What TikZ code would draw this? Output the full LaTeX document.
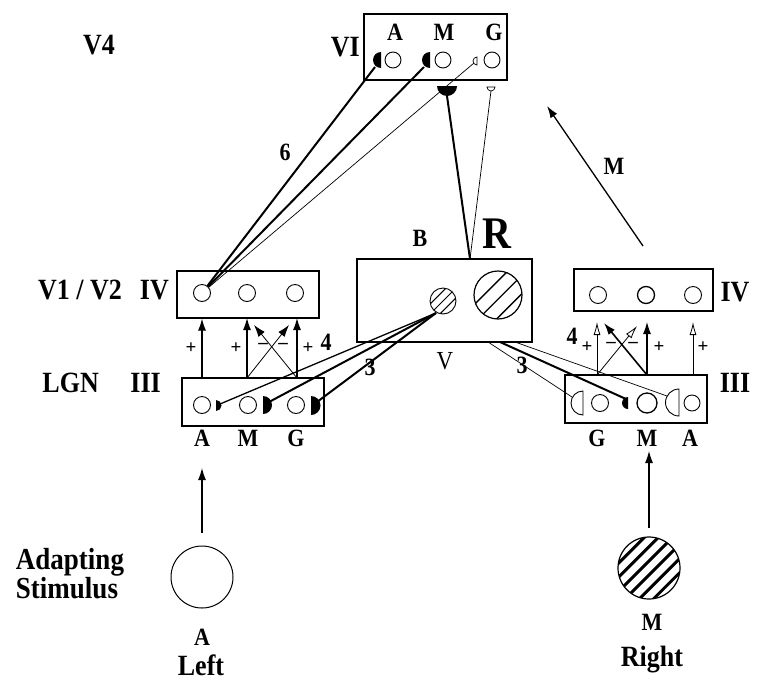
\documentclass[tikz,border=0pt]{standalone}
\usepackage{fontspec}
\setmainfont{Liberation Serif}
\usetikzlibrary{arrows.meta}
\newcommand\stretchtxt[1]{\scalebox{1}[1.13]{#1}}
\begin{document}
\begin{tikzpicture}[x=1pt,y=-1pt,
  box/.style={draw, line width=1.1pt},
  cell/.style={circle, draw, line width=0.9pt, minimum size=17pt, inner sep=0pt},
  big/.style={font=\bfseries\fontsize{26}{26}\selectfont, inner sep=0pt},
  mid/.style={font=\bfseries\fontsize{22}{22}\selectfont, inner sep=0pt},
  sign/.style={font=\bfseries\fontsize{19}{19}\selectfont, inner sep=0pt},
  bold line/.style={line width=2pt},
  med line/.style={line width=1.3pt},
  fine line/.style={line width=0.7pt},
  arr/.style={-{Latex[length=12pt,width=8pt]}, line width=1.1pt},
  oarr/.style={-{Latex[open,length=13pt,width=7pt]}, line width=0.8pt},
  hatch/.style={line width=1.4pt},
]
\useasboundingbox (0,0) rectangle (762,683);

% ---------------- V4 (layer VI) ----------------
\node[big] (v4) at (99,45) {\stretchtxt{V4}};
\node[box, minimum width=143pt, minimum height=66pt, inner sep=0pt] (vibox) at (435.5,47) {};
\node[big, anchor=east] (vilab) at (360,47) {\stretchtxt{VI}};
\node[mid] at (395,32) {\stretchtxt{A}};
\node[mid] at (444,32) {\stretchtxt{M}};
\node[mid] at (494,32) {\stretchtxt{G}};
\node[cell, minimum size=16pt] (viA) at (393,60) {};
\node[cell, minimum size=16pt] (viM) at (443,60) {};
\node[cell, minimum size=16pt] (viG) at (492,60) {};
% synaptic terminals on the VI cells
\fill (381,52) arc[start angle=270, end angle=90, radius=8] -- cycle;
\fill (430,52) arc[start angle=270, end angle=90, radius=8] -- cycle;
\draw[fill=white, line width=0.7pt] (477,57) arc[start angle=270, end angle=90, radius=4] -- cycle;
\coordinate (tA) at (375,67);
\coordinate (tM) at (424,67);
\coordinate (tG) at (474,63);
% terminals below the VI box
\fill (437,86) arc[start angle=180, end angle=0, radius=10] -- cycle;
\draw[fill=white, line width=0.7pt] (487,87) arc[start angle=180, end angle=0, radius=4] -- cycle;
\coordinate (tB) at (447,96);
\coordinate (tW) at (491,91);

% ---------------- V1 / V2 (layer IV), left ----------------
\node[big, anchor=east] (v1lab) at (122,290) {\stretchtxt{V1 / V2}};
\node[big, anchor=east] (ivlab) at (169,290) {\stretchtxt{IV}};
\node[box, minimum width=142pt, minimum height=47pt, inner sep=0pt] (ivL) at (248,294.5) {};
\node[cell] (ivLA) at (202,293) {};
\node[cell] (ivLM) at (247,293) {};
\node[cell] (ivLG) at (295,293) {};

% ---------------- LGN (layer III), left ----------------
\node[big, anchor=east] (lgnlab) at (99,383) {\stretchtxt{LGN}};
\node[big, anchor=east] (iiilab) at (161,383) {\stretchtxt{III}};
\node[box, minimum width=142pt, minimum height=48pt, inner sep=0pt] (iiiL) at (253,402) {};
\node[cell] (lgA) at (202,405) {};
\node[cell] (lgM) at (248,405) {};
\node[cell] (lgG) at (296,405) {};
\fill (216,400) arc[start angle=270, end angle=450, radius=5.5] -- cycle;
\fill (263,396) arc[start angle=270, end angle=450, radius=9] -- cycle;
\fill (311,396) arc[start angle=270, end angle=450, radius=9.5] -- cycle;
\coordinate (sA) at (220,404);
\coordinate (sM) at (269,402);
\coordinate (sG) at (317,402);
\node[mid] at (202,438) {\stretchtxt{A}};
\node[mid] at (248,438) {\stretchtxt{M}};
\node[mid] at (296,438) {\stretchtxt{G}};

% LGN -> IV, left
\draw[arr] (202,378) -- (ivLA |- ivL.south);
\draw[arr] (247,378) -- (247,318);
\draw[arr] (297,378) -- (297,318);
\draw[arr, line width=0.8pt] (247,378) -- (289,325);
\draw[arr, line width=0.8pt] (297,378) -- (254,325);
\node[sign] at (191,348) {+};
\node[sign] at (236,348) {+};
\node[sign] at (308,348) {+};
\node[sign] at (263,346) {\textendash};
\node[sign] at (283,346) {\textendash};
\node[mid] at (326,342) {\stretchtxt{4}};

% ---------------- Region R ----------------
\node[box, minimum width=175pt, minimum height=83pt, inner sep=0pt] (rbox) at (444.5,300.5) {};
\coordinate (rtop) at (470,259);
\node[mid] at (420,238) {\stretchtxt{B}};
\node[font=\bfseries\fontsize{40}{40}\selectfont, inner sep=0pt] at (497,234) {\stretchtxt{R}};
\node[font=\fontsize{23}{23}\selectfont, inner sep=0pt] at (445,361) {\stretchtxt{V}};
% small hatched field
\begin{scope}
  \clip (443,301) circle (13);
  \foreach \d in {-7,0,7}
    \draw[hatch, line width=1pt] ({443+\d*0.707-20},{301+\d*0.707+20}) -- ({443+\d*0.707+20},{301+\d*0.707-20});
\end{scope}
\node[circle, draw, line width=0.9pt, minimum size=26pt, inner sep=0pt] (rsmall) at (443,301) {};
% large hatched field
\begin{scope}
  \clip (498,295) circle (24);
  \foreach \d in {-10,3,16}
    \draw[hatch] ({498+\d*0.707-35},{295+\d*0.707+35}) -- ({498+\d*0.707+35},{295+\d*0.707-35});
\end{scope}
\node[circle, draw, line width=1.2pt, minimum size=48pt, inner sep=0pt] (rlarge) at (498,295) {};
\coordinate (rsm) at (436,313);

% R -> LGN terminals (left)
\draw[med line] (rsm) -- (sA);
\draw[bold line] (rsm) -- (sM);
\draw[bold line] (rsm) -- (sG);
\node[mid] at (370,367) {\stretchtxt{3}};

% V1 -> VI
\draw[bold line] (ivLA) -- (tA);
\draw[bold line] (ivLA) -- (tM);
\draw[fine line] (ivLA) -- (tG);
\node[mid] at (285,152) {\stretchtxt{6}};

% VI -> R
\draw[bold line] (tB) -- (rtop);
\draw[fine line] (tW) -- (rtop);

% ---------------- layer IV, right ----------------
\node[box, minimum width=139pt, minimum height=42pt, inner sep=0pt] (ivR) at (643.5,290) {};
\node[big] at (735,292) {\stretchtxt{IV}};
\node[cell] (ivRG) at (598,295) {};
\node[cell, line width=1.3pt] (ivRM) at (646,295) {};
\node[cell] (ivRA) at (693,295) {};

% ---------------- layer III, right ----------------
\node[box, minimum width=142pt, minimum height=48pt, inner sep=0pt] (iiiR) at (636,399) {};
\node[big] at (735,383) {\stretchtxt{III}};
\draw[fill=white, line width=0.9pt] (583,391) arc[start angle=270, end angle=90, radius=12] -- cycle;
\node[cell] (rgG) at (600,403) {};
\fill (628,397) arc[start angle=270, end angle=90, radius=6] -- cycle;
\node[cell, line width=1.3pt, minimum size=20pt] (rgM) at (647,403) {};
\draw[fill=white, line width=0.9pt] (679,389) arc[start angle=270, end angle=90, radius=13.5] -- cycle;
\node[cell, minimum size=16pt] (rgA) at (692,403) {};
\coordinate (uG) at (572,397);
\coordinate (uM) at (626,399);
\coordinate (uA) at (667,396);
\node[mid] at (597,438) {\stretchtxt{G}};
\node[mid] at (647,438) {\stretchtxt{M}};
\node[mid] at (690,438) {\stretchtxt{A}};

% R -> right LGN terminals
\coordinate (rb1) at (488,342);
\coordinate (rb2) at (500,342);
\coordinate (rb3) at (515,342);
\draw[fine line] (rb1) -- (uG);
\draw[bold line] (rb2) -- (uM);
\draw[fine line] (rb3) -- (uA);
\node[mid] at (522,365) {\stretchtxt{3}};

% III -> IV, right
\draw[oarr] (597,375) -- (597,322);
\draw[arr] (647,375) -- (647,322);
\draw[oarr] (693,375) -- (693,322);
\draw[oarr] (597,375) -- (637,326);
\draw[arr, line width=1.6pt] (647,375) -- (604,323);
\node[sign] at (587,347) {+};
\node[sign] at (659,347) {+};
\node[sign] at (703,347) {+};
\node[sign] at (611,345) {\textendash};
\node[sign] at (633,345) {\textendash};
\node[mid] at (572,336) {\stretchtxt{4}};

% IV (right) -> V4
\coordinate (mtail) at (643,246);
\coordinate (mhead) at (547,106);
\draw[arr, line width=1.3pt] (mtail) -- (mhead);
\node[mid] at (614,166) {\stretchtxt{M}};

% ---------------- stimuli ----------------
\node[circle, draw, line width=1pt, minimum size=62pt, inner sep=0pt] (stL) at (202,577) {};
\coordinate (stLtop) at (202,533);
\draw[arr] (stLtop) -- (202,468);
\node[font=\bfseries\fontsize{27}{27}\selectfont, inner sep=0pt] at (70,562) {\stretchtxt{Adapting}};
\node[font=\bfseries\fontsize{27}{27}\selectfont, inner sep=0pt] at (67,588) {\stretchtxt{Stimulus}};
\node[mid] at (202,637) {\stretchtxt{A}};
\node[font=\bfseries\fontsize{26}{26}\selectfont, inner sep=0pt] at (201,665) {\stretchtxt{Left}};

\begin{scope}
  \clip (649,568) circle (31);
  \foreach \d in {-25,-15,-5,5,15,25}
    \draw[line width=3pt] ({649+\d*0.707-45},{568+\d*0.707+45}) -- ({649+\d*0.707+45},{568+\d*0.707-45});
\end{scope}
\node[circle, draw, line width=1.2pt, minimum size=62pt, inner sep=0pt] (stR) at (649,568) {};
\coordinate (stRtop) at (649,528);
\draw[arr] (stRtop) -- (649,451);
\node[mid] at (652,622) {\stretchtxt{M}};
\node[font=\bfseries\fontsize{26}{26}\selectfont, inner sep=0pt] at (652,660) {\stretchtxt{Right}};
\end{tikzpicture}
\end{document}
